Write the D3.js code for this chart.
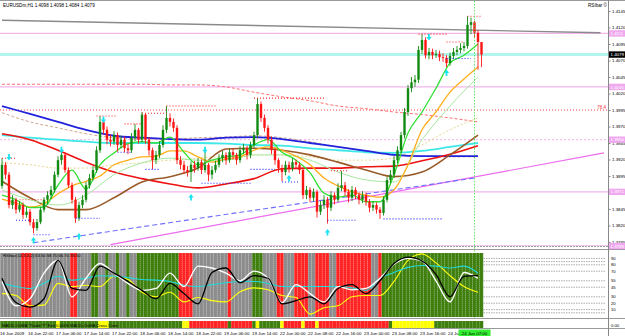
<!DOCTYPE html>
<html><head><meta charset="utf-8">
<script src="https://cdn.jsdelivr.net/npm/d3@7"></script>
<style>body{margin:0;background:#fff}svg{display:block}text{font-family:"Liberation Sans",Arial,sans-serif}</style>
</head><body><svg id="c" width="625" height="336"></svg>
<script>
// ---------- DATA ----------
const firstOpen = 1.3880;
const closes = [1.3912,1.3897,1.3851,1.3859,1.3844,1.3851,1.3836,1.3841,1.3825,1.3816,
1.3825,1.3844,1.3859,1.3866,1.3874,1.3897,1.3919,1.3927,1.3904,1.3881,
1.3859,1.3831,1.3851,1.3859,1.3881,1.3892,1.3904,1.3934,1.3977,1.3965,
1.3950,1.3947,1.3957,1.3942,1.3950,1.3937,1.3934,1.3953,1.3965,1.3950,
1.3988,1.3950,1.3934,1.3919,1.3927,1.3942,1.3965,1.3983,1.3977,1.3968,
1.3919,1.3912,1.3904,1.3901,1.3912,1.3907,1.3916,1.3904,1.3912,1.3897,
1.3904,1.3912,1.3922,1.3927,1.3919,1.3931,1.3927,1.3919,1.3934,1.3937,
1.3927,1.3942,1.3957,1.4004,1.3983,1.3968,1.3950,1.3934,1.3919,1.3907,
1.3901,1.3912,1.3907,1.3916,1.3912,1.3904,1.3866,1.3874,1.3862,1.3871,
1.3841,1.3851,1.3859,1.3847,1.3866,1.3859,1.3877,1.3881,1.3871,1.3862,
1.3874,1.3866,1.3859,1.3866,1.3856,1.3847,1.3851,1.3844,1.3839,1.3859,
1.3889,1.3897,1.3919,1.3934,1.3957,1.3992,1.4028,1.4037,1.4041,1.4086,
1.4101,1.4078,1.4083,1.4078,1.4080,1.4075,1.4074,1.4066,1.4077,1.4083,
1.4086,1.4089,1.4092,1.4124,1.4128,1.4112,1.4098,1.4079];
const highs = [1.3922,1.3916,1.3901,1.3866,1.3862,1.3857,1.3855,1.3848,1.3845,1.3830,
1.3830,1.3848,1.3863,1.3872,1.3880,1.3902,1.3925,1.3937,1.3931,1.3908,
1.3885,1.3863,1.3856,1.3866,1.3886,1.3898,1.3910,1.3940,1.3986,1.3983,
1.3970,1.3958,1.3963,1.3961,1.3956,1.3955,1.3944,1.3960,1.3974,1.3968,
1.3992,1.3990,1.3954,1.3938,1.3933,1.3948,1.3972,1.4001,1.3990,1.3982,
1.3972,1.3925,1.3918,1.3910,1.3917,1.3918,1.3922,1.3920,1.3932,1.3915,
1.3910,1.3918,1.3928,1.3933,1.3931,1.3936,1.3937,1.3930,1.3940,1.3944,
1.3941,1.3947,1.3962,1.4013,1.4008,1.3988,1.3972,1.3955,1.3938,1.3922,
1.3912,1.3918,1.3917,1.3922,1.3920,1.3916,1.3908,1.3880,1.3878,1.3876,
1.3874,1.3857,1.3866,1.3863,1.3872,1.3870,1.3884,1.3903,1.3886,1.3875,
1.3880,1.3878,1.3870,1.3872,1.3870,1.3860,1.3857,1.3855,1.3848,1.3864,
1.3894,1.3904,1.3925,1.3940,1.3962,1.3998,1.4033,1.4045,1.4048,1.4092,
1.4110,1.4105,1.4089,1.4088,1.4086,1.4085,1.4081,1.4078,1.4082,1.4089,
1.4092,1.4096,1.4098,1.4137,1.4135,1.4130,1.4116,1.4098];
const lows = [1.3876,1.3890,1.3846,1.3845,1.3838,1.3840,1.3830,1.3832,1.3820,1.3808,
1.3812,1.3822,1.3840,1.3852,1.3860,1.3870,1.3893,1.3912,1.3900,1.3877,
1.3853,1.3824,1.3827,1.3846,1.3855,1.3876,1.3888,1.3900,1.3930,1.3958,
1.3943,1.3940,1.3942,1.3932,1.3937,1.3931,1.3928,1.3930,1.3948,1.3944,
1.3946,1.3944,1.3926,1.3905,1.3913,1.3922,1.3938,1.3960,1.3970,1.3962,
1.3913,1.3905,1.3898,1.3894,1.3886,1.3900,1.3903,1.3898,1.3900,1.3887,
1.3890,1.3900,1.3908,1.3916,1.3912,1.3915,1.3920,1.3912,1.3915,1.3928,
1.3920,1.3922,1.3938,1.3952,1.3977,1.3962,1.3944,1.3928,1.3912,1.3900,
1.3887,1.3896,1.3900,1.3902,1.3906,1.3898,1.3860,1.3860,1.3855,1.3857,
1.3832,1.3836,1.3845,1.3823,1.3842,1.3852,1.3855,1.3872,1.3865,1.3855,
1.3857,1.3860,1.3852,1.3854,1.3850,1.3840,1.3842,1.3838,1.3830,1.3835,
1.3855,1.3884,1.3892,1.3914,1.3930,1.3952,1.3986,1.4022,1.4030,1.4036,
1.4080,1.4073,1.4072,1.4072,1.4074,1.4069,1.4068,1.4060,1.4062,1.4072,
1.4078,1.4081,1.4084,1.4088,1.4110,1.4105,1.4056,1.4060];

const timeLabels = ["16 Jun 2009","16 Jun 22:00","17 Jun 06:00","17 Jun 14:00","17 Jun 22:00","18 Jun 06:00","18 Jun 14:00","18 Jun 22:00","19 Jun 06:00","19 Jun 14:00","22 Jun 00:00","22 Jun 08:00","22 Jun 16:00","23 Jun 00:00","23 Jun 08:00","23 Jun 16:00","24 Jun"];
const currentTimeLabel = "24 Jun 07:00";
const priceTicks = [1.4145,1.4120,1.4095,1.4070,1.4045,1.4020,1.3995,1.3970,1.3945,1.3920,1.3895,1.3870,1.3845,1.3820,1.3795];

// moving averages sampled every 8 bars (bars 0..136)
const maBlue  = [1.4001,1.3989,1.3977,1.3965,1.3956,1.3953,1.3951,1.3950,1.3953,1.3954,1.3951,1.3945,1.3939,1.3933,1.3927,1.3925,1.3925,1.3925];
const maCyan  = [1.3957,1.3953,1.3950,1.3947,1.3945,1.3945,1.3945,1.3945,1.3944,1.3942,1.3941,1.3937,1.3934,1.3931,1.3930,1.3933,1.3939,1.3945];
const maRed   = [1.3959,1.3950,1.3934,1.3916,1.3901,1.3891,1.3883,1.3877,1.3883,1.3891,1.3906,1.3907,1.3907,1.3909,1.3910,1.3918,1.3928,1.3941];
const maBrown = [1.3887,1.3862,1.3844,1.3844,1.3862,1.3886,1.3894,1.3907,1.3936,1.3937,1.3934,1.3927,1.3916,1.3904,1.3894,1.3901,1.3927,1.3957];
const maRedDash = [1.4034,1.4034,1.4034,1.4034,1.4034,1.4034,1.4033,1.4033,1.4030,1.4022,1.4015,1.4009,1.4001,1.3997,1.3992,1.3988,1.3983,1.3977];
const maTanDash = [1.3991,1.3977,1.3968,1.3959,1.3953,1.3951,1.3951,1.3953,1.3954,1.3956,1.3953,1.3947,1.3939,1.3933,1.3928,1.3925,1.3924,1.3924];
const maPaleGreen = [1.3874,1.3859,1.3851,1.3866,1.3897,1.3915,1.3922,1.3919,1.3919,1.3927,1.3927,1.3919,1.3901,1.3889,1.3886,1.3950,1.4001,1.4045];
const maKhaki = [1.3915,1.3912,1.3907,1.3907,1.3912,1.3915,1.3919,1.3922,1.3925,1.3927,1.3927,1.3924,1.3919,1.3919,1.3922,1.3942,1.3965,1.3983];
// faster averages sampled every 4 bars
const maGreen  = [1.3866,1.3859,1.3847,1.3848,1.3881,1.3904,1.3875,1.3912,1.3930,1.3944,1.3947,1.3945,1.3954,1.3931,1.3912,1.3919,1.3924,1.3927,1.3942,1.3950,1.3931,1.3919,1.3900,1.3869,1.3863,1.3866,1.3856,1.3856,1.3897,1.3960,1.3992,1.4028,1.4066,1.4078,1.4095];
const maOrange = [1.3860,1.3854,1.3848,1.3853,1.3868,1.3880,1.3887,1.3895,1.3912,1.3919,1.3924,1.3925,1.3933,1.3933,1.3924,1.3916,1.3921,1.3924,1.3934,1.3939,1.3934,1.3925,1.3912,1.3892,1.3880,1.3871,1.3866,1.3863,1.3874,1.3912,1.3965,1.3992,1.4022,1.4042,1.4060];

// horizontal levels
const pinkLevels = [1.4111,1.4030,1.3871,1.3789];
const pinkDotLevel = 1.3950;
const cyanLevel = 1.4079;
const redDotLevel = 1.3995;
// trend lines [bar, price]
const greyTrend = [[0,1.4131],[171,1.4112]];
const magentaTrend = [[31,1.3791],[172,1.3930]];
const blueTrend = [[9,1.3794],[135,1.3892]];
// fractal levels [startBar, endBar, price]
const resistSegs = [[0,4,1.3922],[5,12,1.3859],[27,33,1.3986],[35,40,1.3974],[40,47,1.3990],[47,61,1.4001],[72,92,1.4013],[94,99,1.3903],[119,127,1.4110],[127,132,1.4098],[133,137,1.4137]];
const supportSegs = [[4,8,1.3828],[9,14,1.3806],[21,28,1.3831],[33,37,1.3931],[41,45,1.3905],[57,71,1.3884],[71,78,1.3905],[80,85,1.3886],[93,101,1.3828],[109,126,1.3830],[127,134,1.4073]];
// fractal arrows [bar, price, direction]
const arrows = [[2,1.3923,"d"],[17,1.3934,"d"],[29,1.3980,"d"],[58,1.3934,"d"],[122,1.4105,"d"],
                [9,1.3798,"u"],[22,1.3804,"u"],[54,1.3863,"u"],[82,1.3892,"u"],[93,1.3810,"u"],[127,1.4052,"u"]];
const currentBar = 135;

// indicator window (sampled every 4 bars)
const indBlack  = [59,21,14,27,87,43,40,78,67,54,40,27,51,35,19,68,75,52,63,59,19,24,30,19,43,49,35,55,82,92,86,65,30,62,63];
const indWhite  = [54,16,27,67,87,30,59,82,67,51,40,43,67,46,78,75,67,55,70,59,21,49,35,22,46,41,43,59,81,90,86,55,22,68,59];
const indCyan   = [51,46,43,51,62,56,59,63,62,60,57,56,54,48,46,49,52,54,54,51,46,46,46,46,46,44,40,59,68,76,79,78,75,78,67];
const indYellow = [35,32,16,17,51,46,48,46,62,57,37,30,37,22,29,24,22,38,44,41,32,29,3,13,16,30,32,32,54,87,97,83,63,46,37];
const indLevels = [90,85,80,70,55,45,30,20,10,5];
const indLabelLevels = [90,80,70,55,45,30,20,10];
// per-bar state: g=neutral, G=bull, R=bear
const indState = "gggggg"+"RRR"+"ggggggggggg"+"RR"+"gggg"+"GG"+"ggGggGggGgg"+"GGGGGGGGGGGG"+"RRRR"+"gggggggggg"+"R"+"gggggg"+"GGG"+"gggg"+"RR"+"ggg"+"RRRR"+"gg"+"RRRR"+"gg"+"RRRRRRRRRR"+"gg"+"R"+"GGGGGGGGGGGGGGGGGGGGGGGGGGGGG";
const stripState = "GGGGGGGGGGGGGGGG"+"Y"+"GGGGGGGGGGG"+"YYY"+"GGGGGGGGGGGGGGGGGGGGG"+"YY"+"RRRRRRRRRRR"+"G"+"RRRRRR"+"G"+"Y"+"GGGGGG"+"Y"+"RRRRR"+"Y"+"RRR"+"Y"+"RRRRRRRRRRRRRRRRRRRR"+"G"+"YYYYYYYYYYYY"+"GGGGGGGGGGGGGG";

// ---------- DRAW ----------
const svg = d3.select("#c");
const AX = 608;
const x = d3.scaleLinear().domain([0,137]).range([2,481.5]);
const y = d3.scaleLinear().domain([1.3795,1.4145]).range([242,11]);
const yi = d3.scaleLinear().domain([0,100]).range([316,252]);
const every8 = i => i*8, every4 = i => i*4;

// frames
const frame = svg.append("g");
frame.append("line").attr("x1",0).attr("x2",625).attr("y1",0.5).attr("y2",0.5).attr("stroke","#999");
[246.5,249.5,318.5,328.5].forEach(v=>frame.append("line").attr("x1",0).attr("x2",625).attr("y1",v).attr("y2",v).attr("stroke","#9a9a9a").attr("stroke-dasharray",v===246.5?"2,1":null));

const main = svg.append("g");
main.append("clipPath").attr("id","mclip").append("rect").attr("x",0).attr("y",1).attr("width",AX).attr("height",245);
const mg = main.append("g").attr("clip-path","url(#mclip)");

// horizontal levels
pinkLevels.forEach(p=>mg.append("line").attr("x1",0).attr("x2",AX).attr("y1",y(p)).attr("y2",y(p)).attr("stroke","#f2b6ee").attr("stroke-width",1.3));
mg.append("line").attr("x1",0).attr("x2",AX).attr("y1",y(pinkDotLevel)).attr("y2",y(pinkDotLevel)).attr("stroke","#f0b0e8").attr("stroke-width",1).attr("stroke-dasharray","2,2");
mg.append("line").attr("x1",0).attr("x2",AX).attr("y1",y(cyanLevel)).attr("y2",y(cyanLevel)).attr("stroke","#b2f5ec").attr("stroke-width",3);
mg.append("line").attr("x1",0).attr("x2",AX).attr("y1",y(redDotLevel)).attr("y2",y(redDotLevel)).attr("stroke","#ff4040").attr("stroke-width",1).attr("stroke-dasharray","1,2");
mg.append("text").attr("x",606).attr("y",y(redDotLevel)-1.5).attr("font-size",4.5).attr("fill","#ff3030").attr("text-anchor","end").text("76.4");

// trend lines
const tl = (pts,col,w,dash)=>mg.append("line").attr("x1",x(pts[0][0])).attr("y1",y(pts[0][1])).attr("x2",x(pts[1][0])).attr("y2",y(pts[1][1])).attr("stroke",col).attr("stroke-width",w).attr("stroke-dasharray",dash);
tl(greyTrend,"#8a8a8a",1.4,null);
tl(magentaTrend,"#ee6cee",1.2,null);
tl(blueTrend,"#6d6dff",1.1,"5,3");

// moving averages
const lineOf = (arr,step)=>d3.line().x((d,i)=>x(step(i))).y(d=>y(d)).curve(d3.curveMonotoneX)(arr);
const ma = (arr,step,col,w,dash)=>mg.append("path").attr("d",lineOf(arr,step)).attr("fill","none").attr("stroke",col).attr("stroke-width",w).attr("stroke-dasharray",dash);
ma(maRedDash,every8,"#ff7070",1,"3,2");
ma(maKhaki,every8,"#e8d890",1,"2,2");
ma(maTanDash,every8,"#d2a890",1,"3,2");
ma(maCyan,every8,"#3ee8e8",1.8);
ma(maBlue,every8,"#2222dd",1.8);
ma(maRed,every8,"#ee1111",1.6);
ma(maBrown,every8,"#9a5a28",1.6);
ma(maPaleGreen,every8,"#a8e8a0",1);
ma(maOrange,every4,"#ffae1a",1.3);
ma(maGreen,every4,"#33e033",1.3);

// candles
const bars = closes.map((c,i)=>({i,o:i?closes[i-1]:firstOpen,c,h:highs[i],l:lows[i]}));
const cg = mg.append("g");
bars.forEach(b=>{
  const up = b.c>=b.o, col = up?"#128a12":"#ff1414";
  cg.append("line").attr("x1",x(b.i)).attr("x2",x(b.i)).attr("y1",y(b.h)).attr("y2",y(b.l)).attr("stroke",col).attr("stroke-width",0.9);
  const t=y(Math.max(b.o,b.c)), bt=y(Math.min(b.o,b.c));
  cg.append("rect").attr("x",x(b.i)-1.2).attr("width",2.4).attr("y",t).attr("height",Math.max(0.8,bt-t)).attr("fill",col);
});

// fractal levels
resistSegs.forEach(s=>mg.append("line").attr("x1",x(s[0])).attr("x2",x(s[1])).attr("y1",y(s[2])).attr("y2",y(s[2])).attr("stroke","#ff2a2a").attr("stroke-width",1.1).attr("stroke-dasharray","1,2"));
supportSegs.forEach(s=>mg.append("line").attr("x1",x(s[0])).attr("x2",x(s[1])).attr("y1",y(s[2])).attr("y2",y(s[2])).attr("stroke","#2a2aff").attr("stroke-width",1.1).attr("stroke-dasharray","1,2"));

// arrows
arrows.forEach(a=>{
  const cx=x(a[0]), cy=y(a[1]), s=a[2]==="d"?1:-1;
  const p=`M${cx-0.9},${cy-3.5*s} L${cx+0.9},${cy-3.5*s} L${cx+0.9},${cy-0.5*s} L${cx+2.6},${cy-0.5*s} L${cx},${cy+3*s} L${cx-2.6},${cy-0.5*s} L${cx-0.9},${cy-0.5*s} Z`;
  mg.append("path").attr("d",p).attr("fill","#19e3f0");
});

// current time line
svg.append("line").attr("x1",x(currentBar)).attr("x2",x(currentBar)).attr("y1",1).attr("y2",318).attr("stroke","#44dd44").attr("stroke-width",0.8).attr("stroke-dasharray","1.5,1.5");

// title
svg.append("text").attr("x",3).attr("y",7).attr("font-size",4.6).attr("fill","#000").text("EURUSDm,H1  1.4098 1.4098 1.4084 1.4079");
svg.append("text").attr("x",588).attr("y",7).attr("font-size",4.6).attr("fill","#000").text("RSIbar ©");

// right price axis
svg.append("line").attr("x1",AX+0.5).attr("x2",AX+0.5).attr("y1",0).attr("y2",336).attr("stroke","#888");
const ax = svg.append("g").attr("transform",`translate(${AX+0.5},0)`).call(d3.axisRight(y).tickValues(priceTicks).tickFormat(d3.format(".4f")).tickSize(2).tickPadding(1.5));
ax.select(".domain").remove();
ax.selectAll("text").attr("font-size",4.4).attr("fill","#000").attr("font-family","Liberation Sans, Arial");
ax.selectAll("line").attr("stroke","#888");
const tag=(p,bg,fg)=>{ const g=svg.append("g").attr("transform",`translate(${AX+1},${y(p)})`);
  g.append("rect").attr("x",0).attr("y",-3.2).attr("width",16).attr("height",6.4).attr("fill",bg);
  g.append("text").attr("x",1.5).attr("y",1.6).attr("font-size",4.4).attr("fill",fg).text(d3.format(".4f")(p)); };
pinkLevels.forEach(p=>tag(p,"#f0a8ee","#fff"));
tag(pinkDotLevel,"#f0a8ee","#fff");
tag(cyanLevel,"#000","#fff");

// ---------- indicator window ----------
const ig = svg.append("g");
const bw = 3.5;
bars.forEach(b=>{
  const st = indState[b.i]; const col = st==="G"?"#3f7f0e":st==="R"?"#ff2424":"#8c8c8c";
  ig.append("rect").attr("x",x(b.i)-bw/2).attr("y",253).attr("width",bw).attr("height",64).attr("fill",col);
  ig.append("line").attr("x1",x(b.i)+bw/2).attr("x2",x(b.i)+bw/2).attr("y1",253).attr("y2",317).attr("stroke","#e8e8e8").attr("stroke-width",0.6).attr("stroke-dasharray","1,1").attr("opacity",0.8);
});
indLevels.forEach(v=>{
  ig.append("line").attr("x1",x(137)+2).attr("x2",AX-2).attr("y1",yi(v)).attr("y2",yi(v)).attr("stroke","#888").attr("stroke-width",0.7).attr("stroke-dasharray","1.5,1");
});
indLabelLevels.forEach(v=>{
  ig.append("text").attr("x",AX+3).attr("y",yi(v)+1.5).attr("font-size",4.2).attr("fill","#000").text(v);
});
const iline=(arr,col,w)=>ig.append("path").attr("d",d3.line().x((d,i)=>x(i*4)).y(d=>yi(d)).curve(d3.curveMonotoneX)(arr)).attr("fill","none").attr("stroke",col).attr("stroke-width",w);
iline(indYellow,"#ffff10",1.1);
iline(indCyan,"#22d8d8",1.1);
iline(indWhite,"#ffffff",1.3);
iline(indBlack,"#000",1.3);
ig.append("text").attr("x",3).attr("y",257).attr("font-size",4.2).attr("fill","#000").text("RSIbar(14,3,3,2)  63.50  58.70  66.70  36.50");

// bottom state strip
bars.forEach(b=>{
  const st=stripState[b.i]; const col=st==="G"?"#3f7f0e":st==="R"?"#ff2424":"#ffff00";
  ig.append("rect").attr("x",x(b.i)-bw/2).attr("y",321).attr("width",bw).attr("height",7).attr("fill",col);
});
ig.append("text").attr("x",2).attr("y",326.5).attr("font-size",4.2).attr("fill","#000").text("MACD-OsMA  \"Trade !!!\"  Exit  0.0005  MACD-OsMA Cross  Conv");
ig.append("text").attr("x",AX+3).attr("y",326.5).attr("font-size",4.2).attr("fill","#000").text("0.00");

// time labels
timeLabels.forEach((t,k)=>{
  svg.append("text").attr("x",x(k*8)-2).attr("y",334.5).attr("font-size",4.4).attr("fill","#000").text(t);
});
svg.append("rect").attr("x",x(currentBar)-16).attr("y",329.5).attr("width",32).attr("height",6.5).attr("fill","#33ee33");
svg.append("text").attr("x",x(currentBar)).attr("y",334.5).attr("text-anchor","middle").attr("font-size",4.4).attr("fill","#000").text(currentTimeLabel);
</script></body></html>
